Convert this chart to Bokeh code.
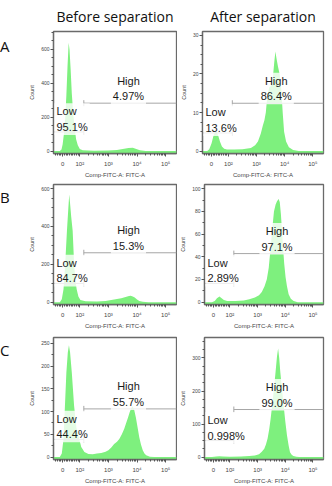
import numpy as np
from bokeh.plotting import figure
from bokeh.layouts import column, row
from bokeh.models import Label, FixedTicker, Div
from bokeh.embed import file_html
from bokeh.resources import INLINE

# ---------------- data (x in display units of the biexponential axis: 10^n -> n) -------------
a_before_x = [1.08, 1.30, 1.36, 1.40, 1.45, 1.49, 1.53, 1.57, 1.61, 1.64, 1.68, 1.72, 1.77, 1.82, 1.87,
              1.93, 2.00, 2.10, 2.50, 3.00, 3.30, 3.50, 3.70, 3.85, 3.95, 4.10, 4.30, 4.60, 5.38]
a_before_y = [0, 0, 10, 40, 110, 200, 330, 500, 640, 600, 480, 340, 220, 140, 70,
              35, 12, 5, 2, 3, 6, 12, 18, 20, 14, 5, 1, 0, 0]

a_after_x = [1.08, 1.25, 1.32, 1.40, 1.47, 1.53, 1.58, 1.64, 1.70, 1.77, 1.85, 1.95, 2.20, 2.50, 2.80,
             2.95, 3.05, 3.15, 3.22, 3.28, 3.33, 3.38, 3.45, 3.52, 3.58, 3.63, 3.67, 3.71, 3.76, 3.82,
             3.88, 3.93, 3.98, 4.05, 4.15, 4.30, 4.50, 5.38]
a_after_y = [0, 0, 0.5, 2, 4, 5.1, 5.0, 4, 2.5, 1.2, 0.6, 0.4, 0.4, 0.5, 0.8,
             1.5, 2.5, 4.5, 6.5, 8, 10, 14, 16.5, 17, 19, 23, 25.8, 24, 22, 20,
             16, 10, 5, 2.5, 1, 0.3, 0, 0]

b_before_x = [1.08, 1.30, 1.37, 1.43, 1.49, 1.55, 1.60, 1.63, 1.66, 1.70, 1.75, 1.80, 1.85, 1.89, 1.95,
              2.02, 2.20, 2.60, 2.90, 3.10, 3.30, 3.45, 3.60, 3.72, 3.78, 3.85, 3.92, 4.00, 4.08, 4.20,
              4.40, 5.38]
b_before_y = [0, 0, 15, 68, 206, 377, 500, 569, 520, 450, 377, 206, 110, 68, 30,
              12, 5, 4, 6, 12, 16, 21, 27, 32, 34, 30, 24, 14, 6, 2,
              0, 0]

b_after_x = [1.08, 1.35, 1.45, 1.53, 1.62, 1.70, 1.78, 1.90, 2.20, 2.50, 2.70, 2.90, 3.05, 3.15, 3.25,
             3.33, 3.40, 3.47, 3.53, 3.59, 3.65, 3.70, 3.76, 3.80, 3.84, 3.88, 3.92, 3.96, 4.01, 4.06,
             4.12, 4.20, 4.30, 4.45, 5.38]
b_after_y = [0, 0, 1, 3.5, 5, 3.5, 1.8, 1, 1, 1.5, 2.5, 4, 6, 9, 14,
             20, 30, 48, 65, 80, 86, 89, 91, 88, 78, 63, 48, 34, 22, 14,
             7, 3, 1, 0, 0]

c_before_x = [1.08, 1.30, 1.37, 1.43, 1.48, 1.53, 1.58, 1.62, 1.66, 1.72, 1.80, 1.88, 1.98, 2.05, 2.16,
              2.30, 2.45, 2.60, 2.75, 2.90, 3.00, 3.10, 3.20, 3.30, 3.38, 3.47, 3.55, 3.62, 3.68, 3.74,
              3.80, 3.85, 3.90, 3.96, 4.02, 4.08, 4.14, 4.20, 4.26, 4.32, 4.45, 4.60, 5.38]
c_before_y = [0, 0, 8, 40, 113, 186, 230, 246, 230, 186, 113, 65, 40, 22, 11,
              7, 6.5, 8, 9, 12, 15, 21, 29, 34, 40, 50, 62, 75, 86, 98,
              108, 112, 104, 87, 65, 43, 27, 15, 8, 4, 1, 0, 0]

c_after_x = [1.08, 1.35, 1.50, 1.62, 1.75, 2.00, 2.40, 2.70, 2.90, 3.05, 3.15, 3.24, 3.30, 3.36, 3.42,
             3.47, 3.53, 3.59, 3.65, 3.70, 3.74, 3.78, 3.82, 3.88, 3.94, 4.00, 4.06, 4.12, 4.17, 4.23,
             4.29, 4.40, 4.50, 5.38]
c_after_y = [0, 0, 1.5, 2.5, 1.5, 1, 1.5, 3, 5, 9, 16, 25, 38, 56, 85,
             116, 160, 207, 260, 305, 329, 300, 257, 205, 156, 108, 66, 35, 15, 7,
             3, 1, 0, 0]

row_letters = ["A", "B", "C"]
column_titles = ["Before separation", "After separation"]
low_pct_before = ["95.1%", "84.7%", "44.4%"]
high_pct_before = ["4.97%", "15.3%", "55.7%"]
low_pct_after = ["13.6%", "2.89%", "0.998%"]
high_pct_after = ["86.4%", "97.1%", "99.0%"]
low_gate_before = [113, 99, 39]
high_gate_before = [283, 261, 106]
low_gate_after = [4.7, 16.5, 50]
high_gate_after = [12.4, 42.8, 144]
y_max_before = [706, 622, 263]
y_max_after = [31, 103.7, 362]
y_ticks_before = [[0, 200, 400, 600], [0, 200, 400, 600], [0, 50, 100, 150, 200, 250]]
y_ticks_after = [[0, 10, 20, 30], [0, 20, 40, 60, 80, 100], [0, 100, 200, 300]]
y_step_minor_before = [50, 50, 25]
y_step_minor_after = [2.5, 10, 25]
x_tick_labels = ["0", "10²", "10³", "10⁴", "10⁵"]

# ---------------- style / layout ----------------
X_START, X_END = 1.08, 5.38
ZERO_POS = 1.4
GATE_SPLIT = 2.14
HIGH_LABEL_X = 3.7
FILL = "#7ef07e"
GATE = "#a6a6a6"
FRAME = "#6a6a6a"
TXT = "#1a1a1a"

x_major = [ZERO_POS, 2, 3, 4, 5]
x_overrides = dict(zip(x_major, x_tick_labels))
x_minor = [float(np.log10(k * 10 ** n)) for n in (2, 3, 4) for k in range(2, 10)] + \
          [ZERO_POS + f * (2 - ZERO_POS) for f in (-0.4, -0.3, -0.2, -0.1, 0.1, 0.2, 0.3, 0.4, 0.5, 0.6, 0.7, 0.8, 0.9)]


def make_panel(xs, ys, ymax, yticks, ystep, low_gate, high_gate, low_pct, high_pct,
               width, height, bl, br, bt, bb, title=None):
    ystart = -0.02 * ymax
    p = figure(width=width, height=height, x_range=(X_START, X_END), y_range=(ystart, ymax),
               output_backend="svg", toolbar_location=None,
               min_border_left=bl, min_border_right=br, min_border_top=bt, min_border_bottom=bb,
               background_fill_color="white", border_fill_color="white")
    p.grid.visible = False
    p.outline_line_color = FRAME
    p.outline_line_width = 1.3

    p.varea(x=xs, y1=ystart, y2=ys, fill_color=FILL)

    p.segment(x0=[X_START, GATE_SPLIT], y0=[low_gate, high_gate],
              x1=[GATE_SPLIT, X_END], y1=[low_gate, high_gate],
              line_color=GATE, line_width=1)
    p.scatter(x=[GATE_SPLIT, GATE_SPLIT], y=[low_gate, high_gate], marker="dash",
              angle=np.pi / 2, size=6, line_color=GATE, line_width=1)

    common = dict(text_font="Liberation Sans", text_font_size="11px", text_color=TXT,
                  text_line_height=1.3, background_fill_color="white",
                  background_fill_alpha=0.8, padding=2)
    p.add_layout(Label(x=X_START, y=low_gate, x_offset=1, y_offset=-3, text="Low\n" + low_pct,
                       text_align="left", text_baseline="bottom", **common))
    p.add_layout(Label(x=HIGH_LABEL_X, y=high_gate, y_offset=-1, text="High\n" + high_pct,
                       text_align="center", text_baseline="bottom", **common))

    # axes
    p.xaxis.ticker = FixedTicker(ticks=x_major, minor_ticks=x_minor)
    p.xaxis.major_label_overrides = x_overrides
    p.xaxis.axis_label = "Comp-FITC-A: FITC-A"
    yminor = list(np.arange(0, ymax, ystep))
    p.yaxis.ticker = FixedTicker(ticks=yticks, minor_ticks=yminor)
    p.yaxis.axis_label = "Count"
    for ax in (p.xaxis[0], p.yaxis[0]):
        ax.axis_line_color = FRAME
        ax.axis_line_width = 1.3
        ax.major_tick_line_color = "#555555"
        ax.minor_tick_line_color = "#555555"
        ax.major_tick_in = 0
        ax.major_tick_out = 3
        ax.minor_tick_in = 0
        ax.minor_tick_out = 2
        ax.major_label_text_font = "Liberation Sans"
        ax.major_label_text_color = "#444444"
        ax.axis_label_text_font = "Liberation Sans"
        ax.axis_label_text_font_style = "normal"
        ax.axis_label_text_color = "#444444"
    p.xaxis.major_label_text_font_size = "6px"
    p.xaxis.axis_label_text_font_size = "6px"
    p.xaxis.major_label_standoff = 4
    p.xaxis.axis_label_standoff = 2
    p.yaxis.major_label_text_font_size = "5px"
    p.yaxis.axis_label_text_font_size = "5.5px"
    p.yaxis.major_label_standoff = 1
    p.yaxis.axis_label_standoff = 3

    if title is not None:
        p.title.text = title
        p.title.align = "center"
        p.title.vertical_align = "middle"
        p.title.text_font = "Open Sans"
        p.title.text_font_size = "14px"
        p.title.text_font_style = "normal"
        p.title.text_color = "#111111"
    return p


def make_letter(letter, height, center):
    inner = (f'<div style="padding-top:{center - 10}px;line-height:20px;font-size:15px;'
             f'font-family:\'Open Sans\';text-align:center;color:#111111">{letter}</div>')
    return Div(text=inner, width=20, height=height, margin=0)


before = [(a_before_x, a_before_y), (b_before_x, b_before_y), (c_before_x, c_before_y)]
after = [(a_after_x, a_after_y), (b_after_x, b_after_y), (c_after_x, c_after_y)]
row_heights = [180, 151, 155]
row_top = [31, 4, 6]
row_bottom = [24, 24, 27]
letter_center = [46, 17, 19]

rows = []
for i in range(3):
    h = row_heights[i]
    lt = make_letter(row_letters[i], h, letter_center[i])
    left = make_panel(before[i][0], before[i][1], y_max_before[i], y_ticks_before[i],
                      y_step_minor_before[i], low_gate_before[i], high_gate_before[i],
                      low_pct_before[i], high_pct_before[i],
                      157, h, 33, 1, row_top[i], row_bottom[i],
                      title=column_titles[0] if i == 0 else None)
    right = make_panel(after[i][0], after[i][1], y_max_after[i], y_ticks_after[i],
                       y_step_minor_after[i], low_gate_after[i], high_gate_after[i],
                       low_pct_after[i], high_pct_after[i],
                       155, h, 22, 9, row_top[i], row_bottom[i],
                       title=column_titles[1] if i == 0 else None)
    rows.append(row(lt, left, right, spacing=0))

layout = column(*rows, spacing=0)
open("out.html", "w").write(file_html(layout, INLINE))
